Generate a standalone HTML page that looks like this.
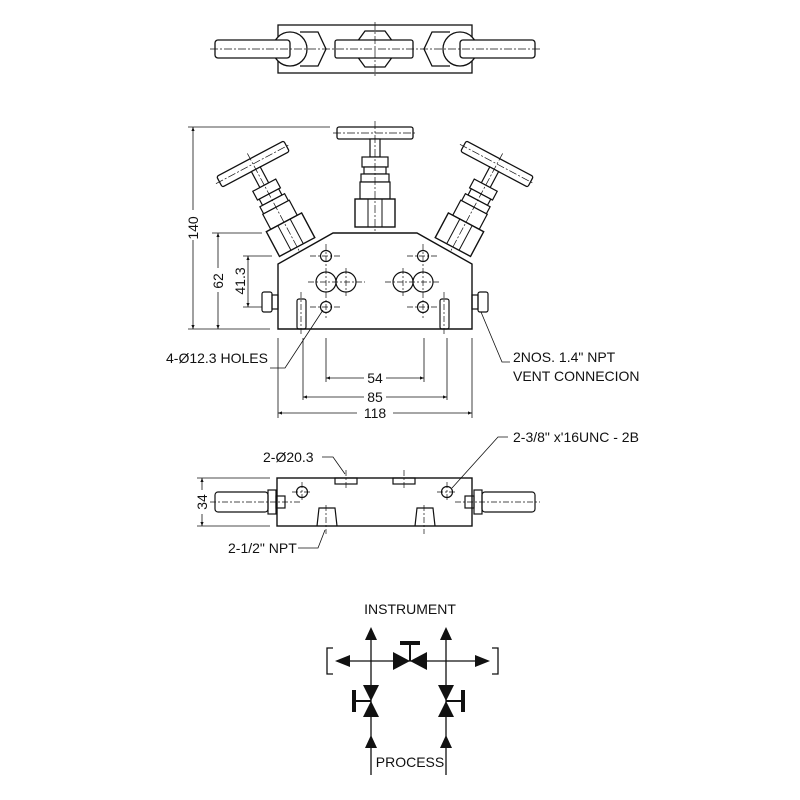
<!DOCTYPE html>
<html><head><style>body{margin:0;background:#fff}svg{display:block}text{font-family:"Liberation Sans",sans-serif;fill:#111}</style></head><body>
<svg width="800" height="800" viewBox="0 0 800 800" xmlns="http://www.w3.org/2000/svg">
<defs>
<marker id="a" viewBox="0 0 10 10" refX="10" refY="5" markerWidth="8" markerHeight="5" orient="auto-start-reverse"><path d="M0,1 L10,5 L0,9z" fill="#111"/></marker>
<g id="valve">
<rect x="-38" y="-6" width="76" height="12" rx="2" fill="#fff" stroke="#111" stroke-width="1.3"/>
<rect x="-5" y="6" width="10" height="18" fill="#fff" stroke="#111" stroke-width="1.2"/>
<rect x="-13" y="24" width="26" height="10" fill="#fff" stroke="#111" stroke-width="1.2"/>
<rect x="-11" y="34" width="22" height="7" fill="#fff" stroke="#111" stroke-width="1.2"/>
<rect x="-14" y="41" width="28" height="8" fill="#fff" stroke="#111" stroke-width="1.2"/>
<rect x="-15" y="49" width="30" height="17" fill="#fff" stroke="#111" stroke-width="1.2"/>
<rect x="-20" y="66" width="40" height="28" fill="#fff" stroke="#111" stroke-width="1.4"/>
<line x1="-7" y1="66" x2="-7" y2="94" stroke="#111"/><line x1="7" y1="66" x2="7" y2="94" stroke="#111"/>
<line x1="0" y1="-12" x2="0" y2="100" stroke="#111" stroke-width=".7" stroke-dasharray="8,2,2,2"/>
<line x1="-42" y1="0" x2="42" y2="0" stroke="#111" stroke-width=".7" stroke-dasharray="8,2,2,2"/>
</g>
</defs>
<g stroke="#111" fill="none" stroke-width="1.3">
<rect x="278" y="25" width="194" height="48"/>
<path d="M300,32 L318,32 L326,49 L318,66 L300,66"/>
<path d="M450,32 L432,32 L424,49 L432,66 L450,66"/>
<path d="M365,31 L385,31 L393,42 L393,56 L385,67 L365,67 L357,56 L357,42z"/>
<circle cx="290" cy="49" r="17" fill="#fff"/><circle cx="460" cy="49" r="17" fill="#fff"/>
<rect x="215" y="40" width="75" height="18" rx="3" fill="#fff"/>
<rect x="460" y="40" width="75" height="18" rx="3" fill="#fff"/>
<rect x="335" y="40" width="78" height="18" rx="2" fill="#fff"/>
<line x1="210" y1="49" x2="540" y2="49" stroke-width=".7" stroke-dasharray="8,2,2,2"/>
<line x1="375" y1="22" x2="375" y2="76" stroke-width=".7" stroke-dasharray="8,2,2,2"/>
</g>
<use href="#valve" transform="translate(375,133)"/>
<use href="#valve" transform="translate(253,164) rotate(-28)"/>
<use href="#valve" transform="translate(497,164) rotate(28)"/>
<g stroke="#111" fill="none" stroke-width="1.2">
<path d="M278,329 L278,264 L333,233 L417,233 L472,264 L472,329z" fill="#fff" stroke-width="1.4"/>
<circle cx="326" cy="256" r="5.5"/><circle cx="326" cy="307" r="5.5"/>
<circle cx="423" cy="256" r="5.5"/><circle cx="423" cy="307" r="5.5"/>
<circle cx="326" cy="282" r="10"/><circle cx="346" cy="282" r="10"/>
<circle cx="423" cy="282" r="10"/><circle cx="403" cy="282" r="10"/>
<g stroke-width=".7" stroke-dasharray="6,2,2,2">
<line x1="310" y1="256" x2="342" y2="256"/><line x1="310" y1="307" x2="342" y2="307"/>
<line x1="407" y1="256" x2="439" y2="256"/><line x1="407" y1="307" x2="439" y2="307"/>
<line x1="308" y1="282" x2="365" y2="282"/><line x1="385" y1="282" x2="441" y2="282"/>
<line x1="326" y1="244" x2="326" y2="318"/><line x1="423" y1="244" x2="423" y2="318"/>
<line x1="346" y1="268" x2="346" y2="296"/><line x1="403" y1="268" x2="403" y2="296"/>
<line x1="301" y1="292" x2="301" y2="335"/><line x1="444" y1="292" x2="444" y2="335"/>
</g>
<rect x="297" y="299" width="9" height="30" rx="2"/><rect x="440" y="299" width="9" height="30" rx="2"/>
<rect x="262" y="292" width="10" height="20" rx="2" fill="#fff"/><rect x="272" y="295" width="6" height="14"/>
<rect x="478" y="292" width="10" height="20" rx="2" fill="#fff"/><rect x="472" y="295" width="6" height="14"/>
<line x1="188" y1="127" x2="330" y2="127" stroke-width=".8"/>
<line x1="193" y1="127" x2="193" y2="329" stroke-width=".8" marker-start="url(#a)" marker-end="url(#a)"/>
<line x1="212" y1="233" x2="262" y2="233" stroke-width=".8"/>
<line x1="218" y1="233" x2="218" y2="329" stroke-width=".8" marker-start="url(#a)" marker-end="url(#a)"/>
<line x1="243" y1="256" x2="272" y2="256" stroke-width=".8"/>
<line x1="248" y1="256" x2="248" y2="307" stroke-width=".8" marker-start="url(#a)" marker-end="url(#a)"/>
<line x1="243" y1="307" x2="262" y2="307" stroke-width=".8"/>
<line x1="188" y1="329" x2="270" y2="329" stroke-width=".8"/>
<g stroke-width=".8">
<line x1="278" y1="338" x2="278" y2="418"/><line x1="472" y1="338" x2="472" y2="418"/>
<line x1="303" y1="338" x2="303" y2="400"/><line x1="447" y1="338" x2="447" y2="400"/>
<line x1="326" y1="338" x2="326" y2="382"/><line x1="424" y1="338" x2="424" y2="382"/>
<line x1="326" y1="378" x2="424" y2="378" marker-start="url(#a)" marker-end="url(#a)"/>
<line x1="303" y1="397" x2="447" y2="397" marker-start="url(#a)" marker-end="url(#a)"/>
<line x1="278" y1="413" x2="472" y2="413" marker-start="url(#a)" marker-end="url(#a)"/>
<polyline points="270,368 285,368 323,310"/>
<polyline points="481,312 502,362 510,362"/>
</g>
</g>
<rect x="186" y="210" width="14" height="30" fill="#fff"/>
<rect x="211" y="268" width="14" height="24" fill="#fff"/>
<g font-size="14">
<text transform="translate(198,228) rotate(-90)" text-anchor="middle">140</text>
<text transform="translate(223,281) rotate(-90)" text-anchor="middle">62</text>
<text transform="translate(245,281) rotate(-90)" text-anchor="middle">41.3</text>
<rect x="364" y="370" width="22" height="14" fill="#fff"/><text x="375" y="383" text-anchor="middle">54</text>
<rect x="364" y="389" width="22" height="14" fill="#fff"/><text x="375" y="402" text-anchor="middle">85</text>
<rect x="357" y="405" width="36" height="14" fill="#fff"/><text x="375" y="418" text-anchor="middle">118</text>
<text x="166" y="363">4-Ø12.3 HOLES</text>
<text x="513" y="362">2NOS. 1.4" NPT</text>
<text x="513" y="381">VENT CONNECION</text>
<text x="263" y="462">2-Ø20.3</text>
<text x="513" y="442">2-3/8" x'16UNC - 2B</text>
<text x="228" y="553">2-1/2" NPT</text>
<text x="410" y="614" text-anchor="middle">INSTRUMENT</text>
<text x="410" y="767" text-anchor="middle">PROCESS</text>
</g>
<g stroke="#111" fill="none" stroke-width="1.2">
<rect x="277" y="478" width="195" height="48" stroke-width="1.4"/>
<rect x="335" y="478" width="22" height="6"/><rect x="393" y="478" width="22" height="6"/>
<path d="M317,526 L319,508 L335,508 L337,526"/><path d="M415,526 L417,508 L433,508 L435,526"/>
<circle cx="302" cy="492" r="5.5"/><circle cx="447" cy="492" r="5.5"/>
<rect x="215" y="492" width="53" height="20" rx="3" fill="#fff"/><rect x="268" y="490" width="8" height="24"/><rect x="276" y="496" width="9" height="12"/>
<rect x="482" y="492" width="53" height="20" rx="3" fill="#fff"/><rect x="474" y="490" width="8" height="24"/><rect x="465" y="496" width="9" height="12"/>
<g stroke-width=".7" stroke-dasharray="6,2,2,2">
<line x1="210" y1="502" x2="300" y2="502"/><line x1="455" y1="502" x2="540" y2="502"/>
<line x1="346" y1="470" x2="346" y2="490"/><line x1="404" y1="470" x2="404" y2="490"/>
<line x1="326" y1="505" x2="326" y2="534"/><line x1="424" y1="505" x2="424" y2="534"/>
<line x1="292" y1="492" x2="312" y2="492"/><line x1="437" y1="492" x2="457" y2="492"/>
<line x1="302" y1="482" x2="302" y2="502"/><line x1="447" y1="482" x2="447" y2="502"/>
</g>
<g stroke-width=".8">
<line x1="197" y1="478" x2="270" y2="478"/><line x1="197" y1="526" x2="270" y2="526"/>
<line x1="202" y1="478" x2="202" y2="526" marker-start="url(#a)" marker-end="url(#a)"/>
<polyline points="322,457 333,457 345,474"/>
<polyline points="508,437 498,437 452,488"/>
<polyline points="298,548 318,548 325,530"/>
</g>
</g>
<rect x="195" y="490" width="14" height="24" fill="#fff"/>
<text font-size="14" transform="translate(207,502) rotate(-90)" text-anchor="middle">34</text>
<g stroke="#111" stroke-width="1.3" fill="none">
<line x1="371" y1="632" x2="371" y2="775"/><line x1="446" y1="632" x2="446" y2="775"/>
<line x1="340" y1="661" x2="485" y2="661"/>
<polyline points="333,648 327,648 327,674 333,674"/>
<polyline points="492,648 498,648 498,674 492,674"/>
<line x1="410" y1="645" x2="410" y2="661" stroke-width="2"/>
<line x1="355" y1="701" x2="371" y2="701" stroke-width="2"/>
<line x1="446" y1="701" x2="462" y2="701" stroke-width="2"/>
</g>
<g fill="#111">
<path d="M371,627 L365,640 L377,640z"/><path d="M446,627 L440,640 L452,640z"/>
<path d="M335,661 L350,655 L350,667z"/><path d="M490,661 L475,655 L475,667z"/>
<path d="M393,652 L410,661 L393,670z"/><path d="M427,652 L410,661 L427,670z"/>
<rect x="400" y="641" width="20" height="4"/>
<path d="M363,685 L379,685 L371,701z"/><path d="M363,717 L379,717 L371,701z"/>
<path d="M438,685 L454,685 L446,701z"/><path d="M438,717 L454,717 L446,701z"/>
<rect x="352" y="690" width="4" height="22"/><rect x="461" y="690" width="4" height="22"/>
<path d="M371,735 L365,748 L377,748z"/><path d="M446,735 L440,748 L452,748z"/>
</g>
</svg>
</body></html>
